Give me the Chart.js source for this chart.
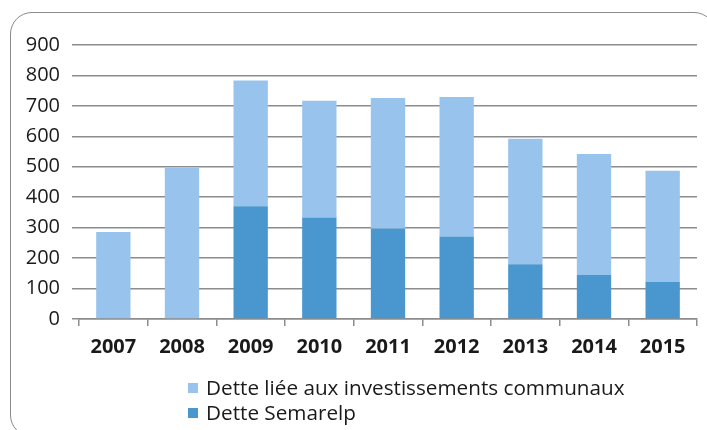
<!DOCTYPE html>
<html>
<head>
<meta charset="utf-8">
<script src="https://cdn.jsdelivr.net/npm/chart.js@4/dist/chart.umd.min.js"></script>
<style>
  html, body { margin: 0; padding: 0; background: #fff; overflow: hidden; }
  #wrap { position: relative; width: 707px; height: 430px; overflow: hidden; }
  #frame {
    position: absolute; left: 10px; top: 12px; width: 706px; height: 425px;
    border: 1.6px solid #8a8a8a; border-radius: 22px; box-sizing: border-box;
  }
  canvas { position: absolute; left: 0; top: 0; }
  #legend {
    position: absolute; left: 188px; top: 375px;
    font-family: "Open Sans", sans-serif; font-size: 20.7px; color: #1a1a1a; line-height: 25px;
  }
  #legend .item { display: flex; align-items: center; white-space: nowrap; }
  #legend .sw { width: 10px; height: 10px; margin-right: 8px; display: inline-block; }
</style>
</head>
<body>
<div id="wrap">
  <div id="frame"></div>
  <canvas id="c" width="707" height="430"></canvas>
  <div id="legend"></div>
</div>
<script>
const years = ['2007', '2008', '2009', '2010', '2011', '2012', '2013', '2014', '2015'];
const detteSemarelp = [0, 0, 370, 333, 297, 271, 180, 145, 122];
const detteInvestissements = [286, 496, 413, 384, 429, 458, 412, 397, 365];
const yTicks = [0, 100, 200, 300, 400, 500, 600, 700, 800, 900];

const seriesNames = ['Dette liée aux investissements communaux', 'Dette Semarelp'];
const lightBlue = '#97c3ec';
const darkBlue = '#4a96ce';
const gridGrey = '#8c8c8c';

const ctx = document.getElementById('c');
new Chart(ctx, {
  type: 'bar',
  data: {
    labels: years,
    datasets: [
      { label: seriesNames[1], data: detteSemarelp, backgroundColor: darkBlue,
        barPercentage: 0.5, categoryPercentage: 1.0, order: 1 },
      { label: seriesNames[0], data: detteInvestissements, backgroundColor: lightBlue,
        barPercentage: 0.5, categoryPercentage: 1.0, order: 2 }
    ]
  },
  options: {
    responsive: false,
    animation: false,
    layout: { padding: { left: 0, right: 10, top: 45, bottom: 61 } },
    plugins: { legend: { display: false }, tooltip: { enabled: false } },
    scales: {
      x: {
        stacked: true,
        grid: { display: true, drawOnChartArea: false, offset: true, color: gridGrey, lineWidth: 1.5, tickLength: 7 },
        border: { color: gridGrey, width: 1.5 },
        ticks: { color: '#1a1a1a', padding: 9, font: { family: '"Open Sans", sans-serif', size: 20, weight: 'bold' } },
        afterFit: (s) => { s.height = 50; }
      },
      y: {
        stacked: true,
        min: 0, max: 900,
        afterBuildTicks: (s) => { s.ticks = yTicks.map(v => ({ value: v })); },
        grid: { color: gridGrey, lineWidth: 1.5, tickLength: 7 },
        border: { display: false },
        ticks: { color: '#1a1a1a', padding: 12, font: { family: '"Open Sans", sans-serif', size: 20 } },
        afterFit: (s) => { s.width = 79; }
      }
    }
  }
});

// Legend, one entry per line
const legend = document.getElementById('legend');
[[seriesNames[0], lightBlue], [seriesNames[1], darkBlue]].forEach(([name, col]) => {
  const row = document.createElement('div');
  row.className = 'item';
  const sw = document.createElement('span');
  sw.className = 'sw';
  sw.style.background = col;
  row.appendChild(sw);
  row.appendChild(document.createTextNode(name));
  legend.appendChild(row);
});
</script>
</body>
</html>
